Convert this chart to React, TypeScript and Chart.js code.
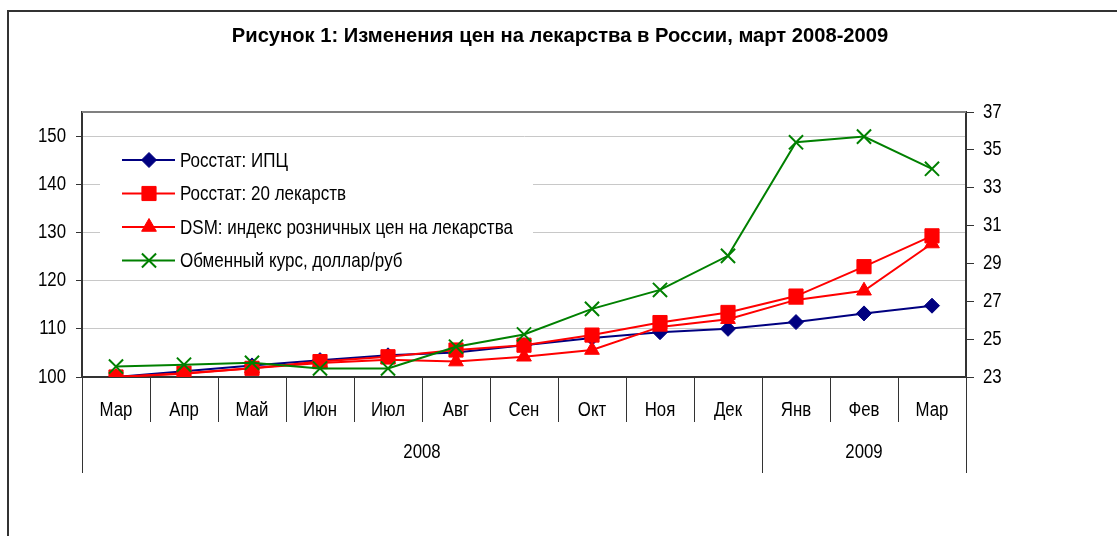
import React, { useEffect, useRef } from 'react';
import { Chart, registerables } from 'chart.js';
import { drawPoint } from 'chart.js/helpers';

Chart.register(...registerables);

const TITLE = 'Рисунок 1: Изменения цен на лекарства в России, март 2008-2009';
const months = ['Мар', 'Апр', 'Май', 'Июн', 'Июл', 'Авг', 'Сен', 'Окт', 'Ноя', 'Дек', 'Янв', 'Фев', 'Мар'];
const monthYears = ['2008', '2008', '2008', '2008', '2008', '2008', '2008', '2008', '2008', '2008', '2009', '2009', '2009'];

const cpi = [100, 101.2, 102.4, 103.5, 104.5, 105.1, 106.6, 108.1, 109.3, 110.0, 111.4, 113.2, 114.8];
const drugs20 = [100, 100.8, 101.8, 103.2, 104.2, 105.6, 106.6, 108.7, 111.3, 113.4, 116.8, 122.9, 129.3];
const dsm = [100, 100.7, 101.8, 102.9, 103.6, 103.2, 104.2, 105.6, 110.4, 112.0, 116.0, 117.9, 127.7];
const usdRub = [23.55, 23.65, 23.75, 23.45, 23.45, 24.6, 25.25, 26.6, 27.6, 29.4, 35.4, 35.7, 34.0];

const seriesNames = [
  'Росстат: ИПЦ',
  'Росстат: 20 лекарств',
  'DSM: индекс розничных цен на лекарства',
  'Обменный курс, доллар/руб',
];

const leftMin = 100;
const leftMax = 155;
const leftStep = 10;
const leftLastTick = 150;
const rightMin = 23;
const rightMax = 37;
const rightStep = 2;

const FONT = "'Liberation Sans', Arial, sans-serif";
const NARROW = 0.84;

function condensedText(ctx: CanvasRenderingContext2D, s: string, x: number, y: number, k: number) {
  const w = ctx.measureText(s).width;
  ctx.fillText(s, x, y, w * k);
}

const decorPlugin = {
  id: 'decor',
  beforeDraw(chart: any) {
    const { ctx, width, height } = chart;
    ctx.save();
    ctx.fillStyle = '#ffffff';
    ctx.fillRect(0, 0, width, height);
    ctx.strokeStyle = '#333333';
    ctx.lineWidth = 2;
    ctx.strokeRect(8, 11, width + 20, height + 20);
    ctx.fillStyle = '#000';
    ctx.font = `bold 21px ${FONT}`;
    ctx.textAlign = 'center';
    ctx.textBaseline = 'alphabetic';
    condensedText(ctx, TITLE, 560, 42, 0.96);
    ctx.restore();
  },
  afterDraw(chart: any) {
    const { ctx, chartArea } = chart;
    const xs = chart.scales.x;
    const ys = chart.scales.y;
    const ys1 = chart.scales.y1;
    ctx.save();
    ctx.strokeStyle = '#808080';
    ctx.lineWidth = 2;
    ctx.beginPath();
    ctx.moveTo(chartArea.left, chartArea.top);
    ctx.lineTo(chartArea.right, chartArea.top);
    ctx.stroke();

    // tick labels
    ctx.fillStyle = '#000';
    ctx.font = `20px ${FONT}`;
    ctx.textBaseline = 'middle';
    ctx.textAlign = 'right';
    ys.ticks.forEach((t: any) => {
      condensedText(ctx, String(t.value), chartArea.left - 16, ys.getPixelForValue(t.value), NARROW);
    });
    ctx.textAlign = 'left';
    ys1.ticks.forEach((t: any) => {
      condensedText(ctx, String(t.value), chartArea.right + 17, ys1.getPixelForValue(t.value), NARROW);
    });
    ctx.textAlign = 'center';
    months.forEach((m, i) => {
      condensedText(ctx, m, xs.getPixelForValue(i), chartArea.bottom + 33, NARROW);
    });

    // category separators
    const half = (xs.getPixelForValue(1) - xs.getPixelForValue(0)) / 2;
    const bottom = chartArea.bottom;
    ctx.strokeStyle = '#333333';
    ctx.lineWidth = 1;
    for (let i = 0; i <= months.length; i++) {
      const bx = Math.round(i < months.length ? xs.getPixelForValue(i) - half : xs.getPixelForValue(months.length - 1) + half) + 0.5;
      const isYear = i === 0 || i === months.length || monthYears[i] !== monthYears[i - 1];
      ctx.beginPath();
      ctx.moveTo(bx, bottom);
      ctx.lineTo(bx, bottom + (isYear ? 96 : 45));
      ctx.stroke();
    }
    // year labels
    ctx.fillStyle = '#000';
    ctx.font = `20px ${FONT}`;
    ctx.textAlign = 'center';
    ctx.textBaseline = 'middle';
    let start = 0;
    for (let i = 1; i <= monthYears.length; i++) {
      if (i === monthYears.length || monthYears[i] !== monthYears[start]) {
        const cx = (xs.getPixelForValue(start) + xs.getPixelForValue(i - 1)) / 2;
        condensedText(ctx, monthYears[start], cx, bottom + 75, NARROW);
        start = i;
      }
    }

    // legend
    ctx.fillStyle = '#ffffff';
    ctx.fillRect(100, 140, 433, 138);
    const datasets = chart.data.datasets;
    for (let i = 0; i < datasets.length; i++) {
      const ds = datasets[i];
      const y = 160 + i * 33.5;
      ctx.strokeStyle = ds.borderColor;
      ctx.lineWidth = ds.borderWidth;
      ctx.beginPath();
      ctx.moveTo(122, y);
      ctx.lineTo(175, y);
      ctx.stroke();
      ctx.fillStyle = ds.pointBackgroundColor;
      ctx.strokeStyle = ds.pointBorderColor;
      ctx.lineWidth = ds.pointBorderWidth;
      drawPoint(ctx, { pointStyle: ds.pointStyle, radius: ds.pointRadius, rotation: 0, borderWidth: ds.pointBorderWidth }, 149, y);
      ctx.fillStyle = '#000';
      ctx.font = `21px ${FONT}`;
      ctx.textAlign = 'left';
      ctx.textBaseline = 'middle';
      condensedText(ctx, seriesNames[i], 180, y + 1, 0.81);
    }
    ctx.restore();
  },
};

export default function App() {
  const ref = useRef<HTMLCanvasElement | null>(null);
  useEffect(() => {
    if (!ref.current) return;
    const chart = new Chart(ref.current, {
      type: 'line',
      data: {
        labels: months,
        datasets: [
          {
            label: seriesNames[0], data: cpi, yAxisID: 'y', order: 4,
            borderColor: '#000080', borderWidth: 2, pointStyle: 'rectRot', pointRadius: 7.5,
            pointBackgroundColor: '#000080', pointBorderColor: '#000080', pointBorderWidth: 1, tension: 0,
          },
          {
            label: seriesNames[1], data: drugs20, yAxisID: 'y', order: 3,
            borderColor: '#ff0000', borderWidth: 2, pointStyle: 'rect', pointRadius: 10,
            pointBackgroundColor: '#ff0000', pointBorderColor: '#ff0000', pointBorderWidth: 1, tension: 0,
          },
          {
            label: seriesNames[2], data: dsm, yAxisID: 'y', order: 2,
            borderColor: '#ff0000', borderWidth: 2, pointStyle: 'triangle', pointRadius: 8.5,
            pointBackgroundColor: '#ff0000', pointBorderColor: '#ff0000', pointBorderWidth: 1, tension: 0,
          },
          {
            label: seriesNames[3], data: usdRub, yAxisID: 'y1', order: 1,
            borderColor: '#008000', borderWidth: 2, pointStyle: 'crossRot', pointRadius: 10,
            pointBackgroundColor: '#008000', pointBorderColor: '#008000', pointBorderWidth: 2, tension: 0,
          },
        ],
      },
      options: {
        animation: false,
        responsive: true,
        maintainAspectRatio: false,
        layout: { padding: { top: 112, left: 0, right: 0, bottom: 0 }, autoPadding: false },
        plugins: { legend: { display: false }, title: { display: false }, tooltip: { enabled: false } },
        scales: {
          x: {
            type: 'category',
            offset: true,
            grid: { display: false, offset: true },
            border: { display: true, color: '#333333', width: 2 },
            ticks: { display: false, autoSkip: false, maxRotation: 0 },
            afterFit: (s: any) => { s.height = 159; },
          },
          y: {
            position: 'left',
            min: leftMin,
            max: leftMax,
            ticks: { display: false, stepSize: leftStep },
            grid: { color: '#c8c8c8', lineWidth: 1, tickColor: '#333333', tickLength: 6 },
            border: { color: '#333333', width: 2 },
            afterBuildTicks: (s: any) => { s.ticks = s.ticks.filter((t: any) => t.value <= leftLastTick); },
            afterFit: (s: any) => { s.width = 82; },
          },
          y1: {
            position: 'right',
            min: rightMin,
            max: rightMax,
            ticks: { display: false, stepSize: rightStep },
            grid: { drawOnChartArea: false, tickColor: '#333333', tickLength: 8 },
            border: { color: '#333333', width: 2 },
            afterFit: (s: any) => { s.width = 151; },
          },
        },
      },
      plugins: [decorPlugin],
    });
    return () => chart.destroy();
  }, []);
  return (
    <div style={{ position: 'fixed', left: 0, top: 0, width: 1117, height: 536 }}>
      <canvas ref={ref} />
    </div>
  );
}
